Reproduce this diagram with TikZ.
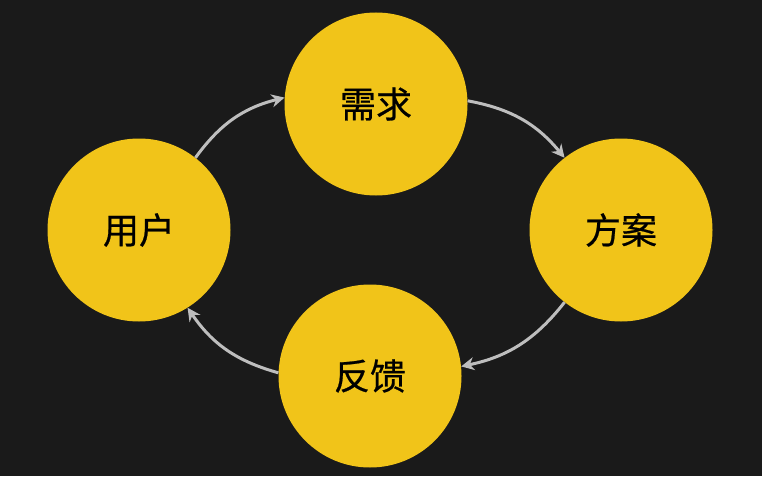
\documentclass[tikz,border=0pt]{standalone}
\usepackage{fontspec}
\newfontfamily\cjk[FakeBold=0.6]{Noto Sans CJK SC}
\usetikzlibrary{arrows.meta}
\definecolor{bgc}{HTML}{1A1A1A}
\definecolor{ylw}{HTML}{F1C419}
\definecolor{arr}{HTML}{BEBEBE}
\tikzset{
  bubble/.style={circle, fill=ylw, minimum size=183pt, inner sep=0pt, font=\cjk\fontsize{36}{36}\selectfont, text=black},
  flow/.style={draw=arr, line width=3pt, -{Stealth[length=13pt,width=13pt]}, bend left=20}
}
\begin{document}
\begin{tikzpicture}[x=1pt,y=-1pt]
\fill[bgc] (0,0) rectangle (762,476);
\useasboundingbox (0,0) rectangle (762,476);
\node[bubble] (user) at (139,230) {用户};
\node[bubble] (need) at (376,104) {需求};
\node[bubble] (plan) at (621,230) {方案};
\node[bubble] (fb) at (370,376) {反馈};
\draw[flow] (user.52) to (need.176);
\draw[flow] (need.2) to (plan.128);
\draw[flow] (plan.232) to (fb.6);
\draw[flow] (fb.178) to (user.302);
\end{tikzpicture}
\end{document}
